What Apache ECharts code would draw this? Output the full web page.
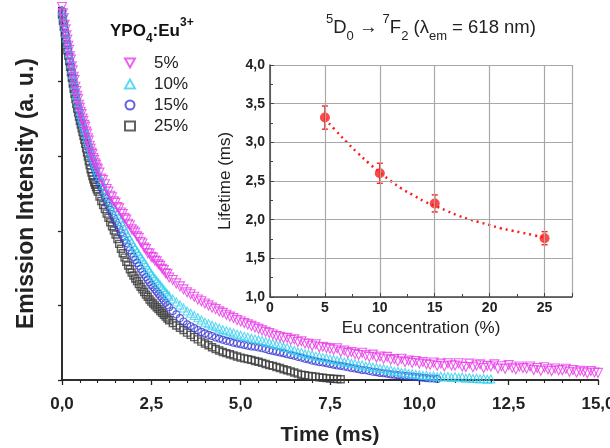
<!DOCTYPE html>
<html><head><meta charset="utf-8">
<script src="https://cdn.jsdelivr.net/npm/echarts@6/dist/echarts.min.js"></script>
<style>html,body{margin:0;padding:0;background:#fff}#c{width:610px;height:448px}</style>
</head><body><div id="c"></div>
<script>
// Time axis samples (ms): dense in the fast initial decay, then 0.1 ms
const times = [0,0.025,0.05,0.075,0.1,0.125,0.15,0.175,0.2,0.225,0.25,0.275,0.3,0.325,0.35,0.375,0.4,0.425,0.45,0.475,0.5,0.525,0.55,0.575,0.6,0.625,0.65,0.675,0.7,0.725,0.75,0.775,0.8,0.825,0.85,0.875,0.9,0.925,0.95,0.975,1,
1.05,1.1,1.15,1.2,1.25,1.3,1.35,1.4,1.45,1.5,1.55,1.6,1.65,1.7,1.75,1.8,1.85,1.9,1.95,2,2.05,2.1,2.15,2.2,2.25,2.3,2.35,2.4,2.45,2.5,2.55,2.6,2.65,2.7,2.75,2.8,2.85,2.9,2.95,3,
3.1,3.2,3.3,3.4,3.5,3.6,3.7,3.8,3.9,4,4.1,4.2,4.3,4.4,4.5,4.6,4.7,4.8,4.9,5,5.1,5.2,5.3,5.4,5.5,5.6,5.7,5.8,5.9,6,6.1,6.2,6.3,6.4,6.5,6.6,6.7,6.8,6.9,7,7.1,7.2,7.3,7.4,7.5,7.6,7.7,7.8,7.9,8,8.1,8.2,8.3,8.4,8.5,8.6,8.7,8.8,8.9,9,9.1,9.2,9.3,9.4,9.5,9.6,9.7,9.8,9.9,10,10.1,10.2,10.3,10.4,10.5,10.6,10.7,10.8,10.9,11,11.1,11.2,11.3,11.4,11.5,11.6,11.7,11.8,11.9,12,12.1,12.2,12.3,12.4,12.5,12.6,12.7,12.8,12.9,13,13.1,13.2,13.3,13.4,13.5,13.6,13.7,13.8,13.9,14,14.1,14.2,14.3,14.4,14.5,14.6,14.7,14.8,14.9,15];

// Emission intensity (a.u., 0-100 scale) per Eu concentration
const int5 = [100,98.3,97.0,95.2,94.0,92.4,91.3,89.6,88.5,86.8,85.9,84.1,83.0,81.3,80.4,78.6,77.5,76.2,75.3,73.8,73.0,71.9,71.3,70.1,69.5,68.4,67.9,66.6,66.0,64.8,64.2,62.8,62.0,61.0,60.6,59.5,59.0,58.1,57.7,56.9,56.5,
55.6,54.0,53.6,52.5,51.2,50.5,49.4,49.0,47.9,47.5,46.4,46.0,44.9,44.5,43.4,43.0,41.9,41.5,40.4,40.0,39.5,38.5,38.1,37.0,36.6,35.5,35.1,34.0,33.9,33.0,32.8,32.0,31.8,31.0,30.6,29.8,29.5,28.6,28.4,27.5,
26.8,25.9,25.1,24.3,23.5,23,22.3,21.6,21.1,
20.5,20,19.4,19,18.4,18,17.5,17,16.6,16.1,
15.7,15.3,14.9,14.5,14.1,13.7,13.3,12.9,12.6,12.2,
11.8,11.6,11.2,11.3,10.7,10.9,10.2,10.4,9.8,9.7,
9.2,9.6,8.8,8.9,8.6,8.4,8.1,8.5,7.6,7.9,
7.2,7.5,7.0,6.7,7.3,6.6,6.2,6.8,6.0,6.3,
5.7,6.2,5.4,5.6,5.0,5.7,4.8,5.2,4.6,5.1,
4.4,4.8,4.2,4.1,4.7,3.8,4.4,3.7,4.5,3.9,
3.9,4.5,3.6,3.5,4.4,3.4,3.9,4.2,3.2,3.8,
3.6,4.2,3.1,3.7,3.0,4.0,3.3,2.9,3.6,3.2,
3.1,3.6,2.7,3.2,2.5,3.4,2.9,2.4,3.1,2.6,
2.6,3.0,2.2,2.7,2.0,2.5,2.2,1.8,2.4,2.0,
1.9];
const int10 = [99,97.6,96.0,94.6,93.0,91.7,90.2,88.9,87.5,86.2,84.7,83.4,82.0,80.6,79.3,77.8,76.5,75.5,74.3,73.2,72.0,71.2,70.3,69.4,68.5,67.6,66.8,65.8,65.0,64.2,63.3,62.4,61.5,60.8,60.0,59.3,58.5,57.8,57.0,56.3,55.5,
54.6,53.5,52.2,51.0,50.0,49.0,48.0,47.0,46.3,45.5,44.5,43.5,42.5,41.5,40.5,39.5,38.6,37.8,36.9,36.0,35.3,34.5,33.8,33.0,32.3,31.5,30.8,30.0,29.2,28.5,27.8,27.2,26.6,26.0,25.4,24.8,24.2,23.6,23.0,22.5,
21.7,20.9,20.1,19.3,18.5,17.9,17.3,16.7,16.1,
15.5,15.1,14.7,14.3,13.9,13.5,13.2,12.9,12.6,12.3,
12.0,11.7,11.5,11.2,11.0,10.8,10.6,10.3,10.0,9.8,
9.5,9.3,8.8,8.7,8.2,8.0,7.5,7.4,7.0,6.9,
6.7,6.4,6.3,6.0,5.9,5.6,5.5,5.2,5.1,4.8,
4.8,4.5,4.4,4.1,4.0,3.7,3.7,3.4,3.3,3.1,
3.0,2.7,2.7,2.3,2.3,2.0,2.0,1.7,1.7,1.5,
1.4,1.2,1.3,1.0,1.1,0.9,1.0,0.8,0.9,0.7,
0.9,0.6,0.8,0.5,0.6,0.4,0.5,0.3,0.4,0.2,
0.3];
const int15 = [99,97.3,95.7,94.1,92.5,91.1,89.7,88.4,87.0,85.6,84.3,82.8,81.5,80.1,78.8,77.3,76.0,74.8,73.5,72.2,71.0,70.1,69.2,68.4,67.5,66.6,65.7,64.9,64.0,63.1,62.2,61.4,60.5,59.6,58.7,57.9,57.0,56.2,55.5,54.7,54.0,
52.7,51.5,50.2,49.0,47.8,46.7,45.6,44.5,43.5,42.5,41.5,40.5,39.5,38.6,37.6,36.7,35.7,34.8,33.9,33.0,32.2,31.4,30.6,29.8,29.0,28.3,27.6,26.9,26.2,25.5,24.9,24.3,23.7,23.1,22.5,21.9,21.3,20.7,20.1,19.5,
18.5,17.6,16.6,15.7,14.9,14.4,13.9,13.4,12.9,
12.5,12.1,11.8,11.4,11.1,10.8,10.5,10.3,10.0,9.8,
9.6,9.4,9.2,9.0,8.9,8.7,8.5,8.3,8.0,7.8,
7.6,7.4,7.2,6.9,6.7,6.5,6.2,6.0,5.7,5.5,
5.2,5.0,4.8,4.7,4.5,4.3,4.1,3.9,3.8,3.6,
3.4,3.2,3.1,2.9,2.7,2.6,2.4,2.2,2.1,1.9,
1.8,1.7,1.5,1.4,1.3,1.2,1.1,1.0,0.9,0.8,
0.7,0.6,0.5,0.4,0.4,0.3];
const int25 = [98,96.3,94.7,93.0,91.5,90.0,88.4,87.0,85.5,84.0,82.5,81.0,79.5,78.1,76.7,75.3,74.0,72.8,71.7,70.6,69.5,68.5,67.5,66.5,65.5,64.4,63.3,62.1,61.0,59.9,58.7,57.6,56.5,55.6,54.7,53.8,53.0,52.4,51.7,51.1,50.5,
49.2,48.0,46.9,45.8,44.6,43.5,42.3,41.2,40.1,39.0,37.8,36.5,35.2,34.0,32.8,31.7,30.7,29.7,28.8,28.0,27.2,26.5,25.7,25.0,24.3,23.6,22.9,22.3,21.6,21.0,20.5,20.0,19.5,19.0,18.5,18.0,17.5,17.0,16.5,16.0,
15.3,14.6,14,13.4,12.7,12.1,11.5,10.9,10.3,
9.8,9.3,8.8,8.3,7.9,7.5,7.2,6.9,6.6,6.3,
6.0,5.8,5.6,5.4,5.1,4.9,4.6,4.3,4.0,3.8,
3.5,3.2,2.9,2.6,2.3,2.0,1.7,1.4,1.3,1.1,
1.0,0.9,0.7,0.6,0.5,0.4,0.3,0.25,0.2];

// Inset: lifetime vs Eu concentration
const euConc = [5,10,15,25];
const lifetime = [3.32,2.60,2.21,1.76];
const lifetimeErr = [0.15,0.13,0.11,0.085];
const fitConc = [5,6,7,8,9,10,11,12,13,14,15,16,17,18,19,20,21,22,23,24,25];
const fitLifetime = [3.30,3.15,3.00,2.86,2.73,2.61,2.50,2.40,2.32,2.24,2.18,2.12,2.06,2.01,1.97,1.93,1.89,1.86,1.83,1.80,1.77];

const FONT = '"Liberation Sans", Arial, sans-serif';
const comma = v => v.toFixed(1).replace('.', ',');
const pairs = arr => arr.map((v, i) => [times[i], v]);

const chart = echarts.init(document.getElementById('c'), null, {renderer: 'canvas'});
const red = '#ff1a1a';
const cMag = '#e93ae9', cCyan = '#35d0ee', cBlue = '#3b3bd4', cBlk = '#3a3a3a';

chart.setOption({
  animation: false,
  backgroundColor: '#fff',
  textStyle: {fontFamily: FONT},
  title: [
    {
      text: '{b|YPO}{bs|4}{b|:Eu}{bp|3+}',
      left: 105, top: 12,
      textStyle: {
        rich: {
          b: {fontSize: 17, fontWeight: 'bold', color: '#111', lineHeight: 28, fontFamily: FONT},
          bs: {fontSize: 12, fontWeight: 'bold', color: '#111', lineHeight: 12, verticalAlign: 'bottom', fontFamily: FONT},
          bp: {fontSize: 12, fontWeight: 'bold', color: '#111', lineHeight: 12, verticalAlign: 'top', fontFamily: FONT}
        }
      }
    },
    {
      text: '{s|5}{n|D}{b|0}{n| \u2192 }{s|7}{n|F}{b|2}{n| (\u03bb}{b|em}{n| = 618 nm)}',
      left: 321, top: 8,
      textStyle: {
        fontWeight: 'normal',
        rich: {
          n: {fontSize: 18.5, fontWeight: 'normal', color: '#222', lineHeight: 30, fontFamily: FONT},
          s: {fontSize: 13, fontWeight: 'normal', color: '#222', lineHeight: 13, verticalAlign: 'top', fontFamily: FONT},
          b: {fontSize: 13, fontWeight: 'normal', color: '#222', lineHeight: 13, verticalAlign: 'bottom', fontFamily: FONT}
        }
      }
    }
  ],
  legend: {
    data: [
      {name: '5%', icon: 'path://M0,0L10,0L5,9Z'},
      {name: '10%', icon: 'path://M5,0L10,9L0,9Z'},
      {name: '15%', icon: 'circle'},
      {name: '25%', icon: 'rect'}
    ],
    orient: 'vertical',
    left: 119, top: 48,
    itemWidth: 10, itemHeight: 9, itemGap: 1,
    textStyle: {fontSize: 17, color: '#222', lineHeight: 20, padding: [0, 0, 0, 14], fontFamily: FONT}
  },
  grid: [
    {left: 62, right: 12, top: 7, bottom: 68, containLabel: false, outerBoundsMode: 'none'},
    {left: 270, right: 38, top: 65, bottom: 151, containLabel: false, outerBoundsMode: 'none'}
  ],
  xAxis: [
    {
      gridIndex: 0, type: 'value', min: 0, max: 15, interval: 2.5,
      name: 'Time (ms)', nameLocation: 'middle', nameGap: 45,
      nameTextStyle: {fontSize: 21, fontWeight: 'bold', color: '#222', fontFamily: FONT},
      axisLine: {lineStyle: {color: '#222', width: 1.5}},
      axisTick: {inside: false, length: 5, lineStyle: {color: '#222', width: 1.3}},
      minorTick: {show: true, splitNumber: 5, length: 3, lineStyle: {color: '#222', width: 1.1}},
      axisLabel: {formatter: comma, fontSize: 17, fontWeight: 'bold', color: '#222', margin: 16, fontFamily: FONT},
      splitLine: {show: false}
    },
    {
      gridIndex: 0, type: 'value', position: 'top', min: 0, max: 15,
      axisLine: {show: true, lineStyle: {color: '#222', width: 1.5}},
      axisTick: {show: false}, axisLabel: {show: false}, splitLine: {show: false}
    },
    {
      gridIndex: 1, type: 'value', min: 0, max: 27.5, interval: 5, z: 10,
      name: 'Eu concentration (%)', nameLocation: 'middle', nameGap: 22,
      nameTextStyle: {fontSize: 17, color: '#222', fontFamily: FONT},
      axisLine: {lineStyle: {color: '#444', width: 1.5}},
      axisTick: {inside: true, length: 4, lineStyle: {color: '#444'}},
      minorTick: {show: true, splitNumber: 2, length: 3, lineStyle: {color: '#444'}},
      axisLabel: {formatter: v => String(v), showMaxLabel: false, fontSize: 14, fontWeight: 'bold', color: '#222', margin: 4, fontFamily: FONT},
      splitLine: {show: true, lineStyle: {color: '#a8a8a8', width: 1.2}}
    }
  ],
  yAxis: [
    {
      gridIndex: 0, type: 'value', min: 0, max: 100, interval: 20,
      name: 'Emission Intensity (a. u.)', nameLocation: 'middle', nameGap: 24,
      nameTextStyle: {fontSize: 23, fontWeight: 'bold', color: '#222', fontFamily: FONT},
      axisLine: {lineStyle: {color: '#222', width: 1.5}},
      axisTick: {inside: false, length: 4, lineStyle: {color: '#222', width: 1.3}},
      axisLabel: {show: false},
      splitLine: {show: false}
    },
    {
      gridIndex: 0, type: 'value', position: 'right', min: 0, max: 100,
      axisLine: {show: true, lineStyle: {color: '#222', width: 1.5}},
      axisTick: {show: false}, axisLabel: {show: false}, splitLine: {show: false}
    },
    {
      gridIndex: 1, type: 'value', min: 1, max: 4, interval: 0.5, z: 10,
      name: 'Lifetime (ms)', nameLocation: 'middle', nameGap: 36,
      nameTextStyle: {fontSize: 17, color: '#222', fontFamily: FONT},
      axisLine: {lineStyle: {color: '#444', width: 1.5}},
      axisTick: {inside: true, length: 4, lineStyle: {color: '#444'}},
      minorTick: {show: true, splitNumber: 2, length: 3, lineStyle: {color: '#444'}},
      axisLabel: {formatter: comma, fontSize: 14, fontWeight: 'bold', color: '#222', margin: 5, fontFamily: FONT},
      splitLine: {show: true, lineStyle: {color: '#a8a8a8', width: 1.2}}
    }
  ],
  series: [
    {
      name: '25%', type: 'scatter', xAxisIndex: 0, yAxisIndex: 0,
      data: pairs(int25), symbol: 'rect', symbolSize: 7,
      itemStyle: {color: 'rgba(255,255,255,0)', borderColor: cBlk, borderWidth: 1.4}
    },
    {
      name: '15%', type: 'scatter', xAxisIndex: 0, yAxisIndex: 0,
      data: pairs(int15), symbol: 'circle', symbolSize: 7,
      itemStyle: {color: 'rgba(255,255,255,0)', borderColor: cBlue, borderWidth: 1.1}
    },
    {
      name: '10%', type: 'scatter', xAxisIndex: 0, yAxisIndex: 0,
      data: pairs(int10), symbol: 'triangle', symbolSize: 8,
      itemStyle: {color: 'rgba(255,255,255,0)', borderColor: cCyan, borderWidth: 1.1}
    },
    {
      name: '5%', type: 'scatter', xAxisIndex: 0, yAxisIndex: 0,
      data: pairs(int5), symbol: 'triangle', symbolRotate: 180, symbolSize: 9,
      itemStyle: {color: 'rgba(255,255,255,0)', borderColor: cMag, borderWidth: 1.1}
    },
    {
      name: 'fit', type: 'line', xAxisIndex: 2, yAxisIndex: 2,
      data: fitConc.map((c, i) => [c, fitLifetime[i]]),
      smooth: true, symbol: 'none',
      lineStyle: {color: red, width: 2.5, type: [2, 4]}
    },
    {
      name: 'err', type: 'custom', xAxisIndex: 2, yAxisIndex: 2,
      data: euConc.map((c, i) => [c, lifetime[i], lifetimeErr[i]]),
      renderItem: (params, api) => {
        const x = api.value(0), y = api.value(1), e = api.value(2);
        const top = api.coord([x, y + e]);
        const bot = api.coord([x, y - e]);
        const st = {stroke: red, lineWidth: 1.4};
        return {
          type: 'group',
          children: [
            {type: 'line', shape: {x1: top[0], y1: top[1], x2: bot[0], y2: bot[1]}, style: st},
            {type: 'line', shape: {x1: top[0] - 3, y1: top[1], x2: top[0] + 3, y2: top[1]}, style: st},
            {type: 'line', shape: {x1: bot[0] - 3, y1: bot[1], x2: bot[0] + 3, y2: bot[1]}, style: st}
          ]
        };
      },
      z: 3
    },
    {
      name: 'lifetime', type: 'scatter', xAxisIndex: 2, yAxisIndex: 2,
      data: euConc.map((c, i) => [c, lifetime[i]]),
      symbol: 'circle', symbolSize: 10,
      itemStyle: {color: red},
      z: 4
    }
  ]
});
</script></body></html>
